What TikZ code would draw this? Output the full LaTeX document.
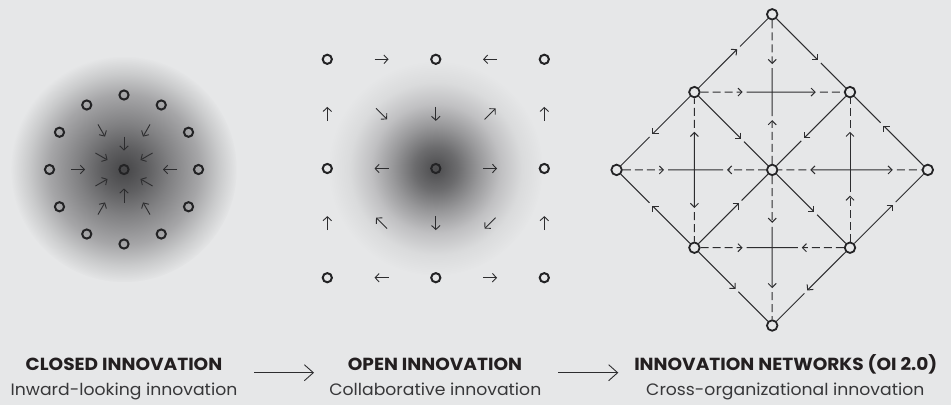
\documentclass[tikz,border=0pt]{standalone}
\usepackage{fontspec}
\setmainfont{Poppins}
\newfontfamily\ttlfont[FakeStretch=1.06]{Poppins}
\newfontfamily\subfont[FakeStretch=1.045]{Poppins}
\usetikzlibrary{arrows.meta,calc}
\definecolor{bgc}{RGB}{230,231,232}
\definecolor{ink}{RGB}{35,35,37}
\definecolor{lin}{RGB}{45,45,47}
\definecolor{txt}{RGB}{35,31,32}
\definecolor{txtb}{RGB}{55,55,57}
\definecolor{aA0}{RGB}{70,70,72}
\definecolor{aA1}{RGB}{95,95,97}
\definecolor{aA2}{RGB}{128,128,130}
\definecolor{aA3}{RGB}{166,166,168}
\definecolor{aA4}{RGB}{202,203,204}
\definecolor{aB0}{RGB}{76,76,78}
\definecolor{aB1}{RGB}{108,108,110}
\definecolor{aB2}{RGB}{152,152,154}
\definecolor{aB3}{RGB}{192,192,194}
\definecolor{aB4}{RGB}{218,219,220}
\pgfdeclareradialshading{shA}{\pgfpoint{0bp}{0bp}}{color(0bp)=(aA0); color(5bp)=(aA1); color(10bp)=(aA2); color(16.5bp)=(aA3); color(21bp)=(aA4); color(25bp)=(bgc); color(50bp)=(bgc)}
\pgfdeclareradialshading{shB}{\pgfpoint{0bp}{0bp}}{color(0bp)=(aB0); color(5bp)=(aB1); color(10bp)=(aB2); color(15bp)=(aB3); color(20bp)=(aB4); color(25bp)=(bgc); color(50bp)=(bgc)}
\newcommand\nwseg[5]{%
  \draw[netline,#4,-{Straight Barb[length=4pt,width=8pt]}] (#1) -- ($(#1)!#3!(#2)$);
  \draw[netline,#5,shorten <=4pt] ($(#1)!#3!(#2)$) -- (#2);}
\begin{document}
\begin{tikzpicture}[x=1pt,y=-1pt,
  dotA/.style={circle,draw=ink,line width=2pt,inner sep=0pt,minimum size=9.2pt},
  dotC/.style={circle,draw=ink,line width=1.8pt,inner sep=0pt,minimum size=10.5pt},
  smallarr/.style={draw=lin,line width=0.9pt,-{Straight Barb[length=4pt,width=8.5pt]}},
  netline/.style={draw=lin,line width=1pt},
  dsh/.style={dash pattern=on 8pt off 4pt},
  sld/.style={solid},
  title/.style={font=\ttlfont\fontsize{17.5}{20}\selectfont\bfseries,text=txt,anchor=base,inner sep=0pt},
  subt/.style={font=\subfont\fontsize{16.5}{20}\selectfont,text=txtb,anchor=base,inner sep=0pt},
  flow/.style={draw=lin,line width=0.9pt,-{Straight Barb[length=9pt,width=16pt]}},
  seam/.style={draw=bgc,line width=2.5pt}]
\fill[bgc] (0,0) rectangle (951,405);
\useasboundingbox (0,0) rectangle (951,405);
% ---------- panel 1 : closed innovation
\coordinate (p1) at (124,169.5);
\fill[shading=shA] (p1) circle (114pt);
\draw[seam] (p1) circle (114pt);
\node[dotA] (c1) at (p1) {};
\foreach \i in {0,...,11} \node[dotA] (r\i) at ($(p1)+(\i*30:74.5)$) {};
\foreach \a/\r in {0/46,30/26,60/45,90/26,120/45,150/26,180/46,210/26,240/45,270/26,300/45,330/26}
  \draw[smallarr] ($(p1)+(\a:\r+7)$) -- ($(p1)+(\a:\r-7)$);
% ---------- panel 2 : open innovation
\coordinate (p2) at (435.8,168.5);
\fill[shading=shB] (p2) circle (108pt);
\draw[seam] (p2) circle (108pt);
\foreach \i in {0,2,4} \foreach \j in {0,2,4}
  \node[dotA] (g\i\j) at (327.3+54.25*\i,59.3+54.6*\j) {};
\foreach \i/\j/\dx/\dy in {1/0/1/0,3/0/-1/0,0/1/0/-1,2/1/0/1,4/1/0/-1,1/2/-1/0,3/2/1/0,0/3/0/-1,2/3/0/1,4/3/0/-1,1/4/-1/0,3/4/1/0}
  \draw[smallarr] (327.3+54.25*\i-7*\dx,59.3+54.6*\j-7*\dy) -- (327.3+54.25*\i+7*\dx,59.3+54.6*\j+7*\dy);
\foreach \i/\j/\dx/\dy in {1/1/1/1,3/1/1/-1,1/3/-1/-1,3/3/-1/1}
  \draw[smallarr] (327.3+54.25*\i-5.5*\dx,59.3+54.6*\j-5.5*\dy) -- (327.3+54.25*\i+5.5*\dx,59.3+54.6*\j+5.5*\dy);
% ---------- panel 3 : innovation networks
\node[dotC] (T)  at (772.2,14.3) {};
\node[dotC] (UL) at (694.4,92.1) {};
\node[dotC] (UR) at (850,92.1) {};
\node[dotC] (L)  at (616.6,169.9) {};
\node[dotC] (C)  at (772.2,169.9) {};
\node[dotC] (R)  at (927.8,169.9) {};
\node[dotC] (LL) at (694.4,247.7) {};
\node[dotC] (LR) at (850,247.7) {};
\node[dotC] (B)  at (772.2,325.5) {};
\coordinate (t1) at (772.2,92.1);
\coordinate (t2) at (694.4,169.9);
\coordinate (t3) at (850,169.9);
\coordinate (t4) at (772.2,247.7);
% orthogonal segments
\nwseg{T}{t1}{0.64}{dsh}{sld}
\nwseg{C}{t1}{0.64}{dsh}{sld}
\nwseg{C}{t4}{0.68}{dsh}{sld}
\nwseg{t4}{B}{0.52}{sld}{dsh}
\nwseg{L}{t2}{0.61}{dsh}{sld}
\nwseg{C}{t2}{0.58}{dsh}{sld}
\nwseg{t3}{C}{0.51}{sld}{dsh}
\nwseg{t3}{R}{0.55}{sld}{dsh}
\nwseg{UL}{t1}{0.62}{dsh}{sld}
\nwseg{t1}{UR}{0.56}{sld}{dsh}
\nwseg{LL}{t4}{0.62}{dsh}{sld}
\nwseg{LR}{t4}{0.62}{dsh}{sld}
\nwseg{t2}{UL}{0.49}{sld}{dsh}
\nwseg{t2}{LL}{0.49}{sld}{dsh}
\nwseg{t3}{UR}{0.49}{sld}{dsh}
\nwseg{LR}{t3}{0.67}{dsh}{sld}
% diagonal segments
\nwseg{UL}{T}{0.55}{sld}{sld}
\nwseg{T}{UR}{0.59}{sld}{sld}
\nwseg{UL}{L}{0.54}{sld}{sld}
\nwseg{LL}{L}{0.54}{sld}{sld}
\nwseg{UL}{C}{0.60}{sld}{sld}
\nwseg{UR}{C}{0.59}{sld}{sld}
\nwseg{R}{UR}{0.57}{sld}{sld}
\nwseg{LL}{C}{0.57}{sld}{sld}
\nwseg{C}{LR}{0.54}{sld}{sld}
\nwseg{LR}{R}{0.55}{sld}{sld}
\nwseg{LL}{B}{0.53}{sld}{sld}
\nwseg{LR}{B}{0.55}{sld}{sld}
% ---------- captions
\node[title] (h1) at (124,370.7) {CLOSED INNOVATION};
\node[subt]  (s1) at (124,395.7) {Inward-looking innovation};
\node[title] (h2) at (435,370.7) {OPEN INNOVATION};
\node[subt]  (s2) at (435.3,395.7) {Collaborative innovation};
\node[title] (h3) at (785.8,370.7) {INNOVATION NETWORKS (OI 2.0)};
\node[subt]  (s3) at (785.3,395.7) {Cross-organizational innovation};
\coordinate (f1s) at (254,372.7);
\coordinate (f1e) at (314,372.7);
\coordinate (f2s) at (558.3,372.7);
\coordinate (f2e) at (618.3,372.7);
\draw[flow] (f1s) -- (f1e);
\draw[flow] (f2s) -- (f2e);
\end{tikzpicture}
\end{document}
